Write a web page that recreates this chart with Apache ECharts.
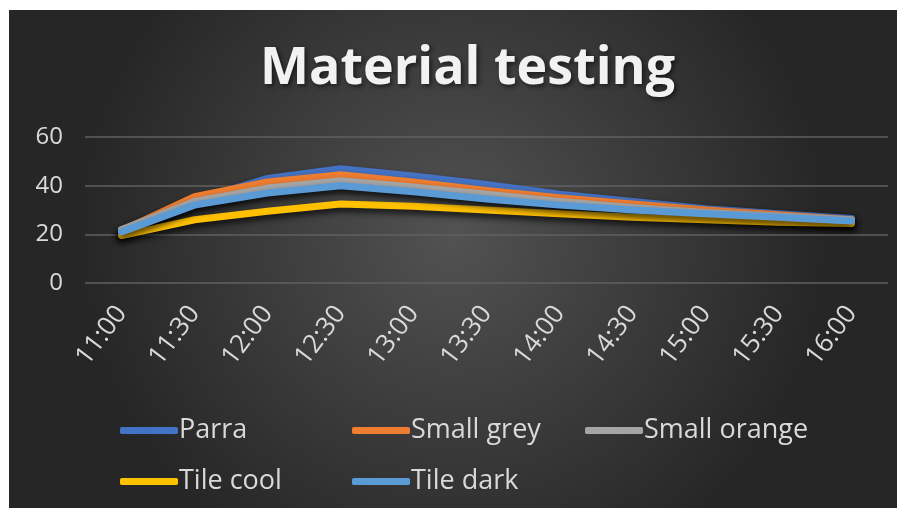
<!DOCTYPE html>
<html>
<head>
<meta charset="utf-8">
<script src="https://cdn.jsdelivr.net/npm/echarts@6/dist/echarts.min.js"></script>
<style>
  html, body { margin: 0; padding: 0; background: #ffffff; }
  #chart { width: 906px; height: 515px; }
</style>
</head>
<body>
<div id="chart"></div>
<script>
// Sampling times
const times = ['11:00', '11:30', '12:00', '12:30', '13:00', '13:30', '14:00', '14:30', '15:00', '15:30', '16:00'];

// Surface temperature readings per material
const parra       = [21, 34, 43, 47, 44, 40.5, 36.5, 33.5, 30.5, 28.5, 26.5];
const smallGrey   = [21.5, 35.5, 41.5, 44.5, 41.5, 38, 35, 32.5, 30, 28, 26];
const smallOrange = [22, 33.5, 39, 42, 39.5, 36.5, 33.5, 31, 29, 27.5, 26];
const tileCool    = [19.5, 26, 29.5, 32.5, 31.5, 30, 28.5, 27, 26, 25, 24.5];
const tileDark    = [21, 32, 37, 40, 37.5, 34.5, 32, 30, 28.5, 27, 25.5];

const seriesNames = ['Parra', 'Small grey', 'Small orange', 'Tile cool', 'Tile dark'];
const seriesData  = [parra, smallGrey, smallOrange, tileCool, tileDark];
const colors      = ['#4472C4', '#ED7D31', '#A5A5A5', '#FFC000', '#5B9BD5'];

const FONT = '"Open Sans", Lato, sans-serif';
const TEXT = '#d9d9d9';

// Legend laid out as a fixed grid: three columns, two rows
const legendSlots = [[120, 417], [352, 417], [585, 417], [120, 468], [352, 468]];
const legends = seriesNames.map((name, i) => ({
  data: [name],
  left: legendSlots[i][0],
  top: legendSlots[i][1],
  padding: 0,
  itemWidth: 58,
  itemHeight: 7,
  icon: 'roundRect',
  textStyle: {
    color: TEXT,
    fontFamily: FONT,
    fontSize: 27,
    padding: [0, 0, 0, -4]
  }
}));

const chart = echarts.init(document.getElementById('chart'));

chart.setOption({
  backgroundColor: '#ffffff',
  animation: false,
  color: colors,
  graphic: [{
    type: 'rect',
    z: -10,
    silent: true,
    shape: { x: 9, y: 10, width: 888, height: 498 },
    style: {
      fill: new echarts.graphic.RadialGradient(0.5, 0.45, 0.75, [
        { offset: 0, color: '#525252' },
        { offset: 1, color: '#262626' }
      ])
    }
  }],
  title: {
    text: 'Material testing',
    left: 255,
    top: 38,
    textStyle: {
      color: '#f2f2f2',
      fontFamily: FONT,
      fontWeight: 'bold',
      fontSize: 52,
      textShadowColor: 'rgba(0,0,0,0.6)',
      textShadowBlur: 5,
      textShadowOffsetX: 2,
      textShadowOffsetY: 2
    }
  },
  legend: legends,
  grid: {
    left: 85,
    right: 18,
    top: 137,
    bottom: 232,
    containLabel: false
  },
  xAxis: {
    type: 'category',
    data: times,
    boundaryGap: true,
    axisLine: { show: false },
    axisTick: { show: false },
    axisLabel: {
      color: TEXT,
      fontFamily: FONT,
      fontSize: 26,
      rotate: 53,
      margin: 26,
      interval: 0
    }
  },
  yAxis: {
    type: 'value',
    min: 0,
    max: 60,
    interval: 20,
    axisLine: { show: false },
    axisTick: { show: false },
    axisLabel: {
      color: TEXT,
      fontFamily: FONT,
      fontSize: 24,
      margin: 22
    },
    splitLine: { lineStyle: { color: '#606060', width: 1.5 } }
  },
  series: seriesNames.map((name, i) => ({
    name: name,
    type: 'line',
    data: seriesData[i],
    symbol: 'none',
    smooth: false,
    lineStyle: {
      width: 7,
      cap: 'round',
      join: 'round',
      shadowColor: 'rgba(0,0,0,0.75)',
      shadowBlur: 6,
      shadowOffsetY: 4
    }
  }))
});
</script>
</body>
</html>
